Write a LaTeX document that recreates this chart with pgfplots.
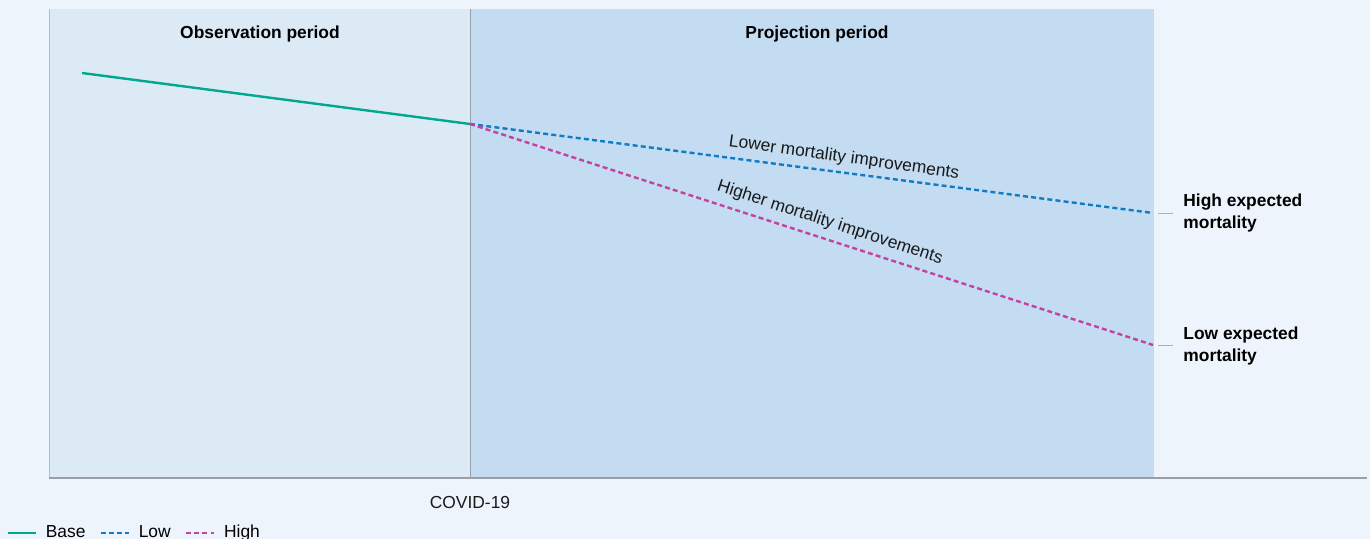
\documentclass[border=0pt]{standalone}
\usepackage{pgfplots}
\pgfplotsset{compat=1.18}
\usepackage{fontspec}
\setmainfont{Liberation Sans}
\definecolor{bg}{HTML}{EDF4FC}
\definecolor{obs}{HTML}{DCEAF6}
\definecolor{proj}{HTML}{C3DCF2}
\definecolor{cbase}{HTML}{00A88E}
\definecolor{clow}{HTML}{0F7CC5}
\definecolor{chigh}{HTML}{C2449E}
\definecolor{txt}{HTML}{1A1A1A}
\definecolor{gline}{HTML}{9A9EA6}
\begin{document}
\begin{tikzpicture}
\fill[bg] (-24.5bp,-30.5bp) rectangle (660.5bp,239bp);
\begin{axis}[
  scale only axis, width=659bp, height=234.5bp,
  xmin=49, xmax=1367, ymin=0, ymax=469,
  hide axis, clip=false,
  font=\fontsize{8.7bp}{11bp}\selectfont\color{txt},
  legend columns=3,
  legend style={at={(axis cs:6,-55)}, anchor=west, draw=none, fill=none,
    inner sep=0pt, font=\fontsize{8.7bp}{11bp}\selectfont,
    /tikz/every even column/.append style={column sep=5bp}},
  legend image code/.code={\draw[#1] (0bp,0bp) -- (14bp,0bp); \path (16.5bp,0bp);},
]
% regions
\addplot[draw=none, fill=obs, forget plot] coordinates {(49,0) (470,0) (470,469) (49,469)} -- cycle;
\addplot[draw=none, fill=proj, forget plot] coordinates {(470,0) (1154,0) (1154,469) (470,469)} -- cycle;
% axis lines
\addplot[color=gline!70, line width=0.8bp, forget plot] coordinates {(49.5,0) (49.5,469)};
\addplot[color=gline, line width=0.75bp, forget plot] coordinates {(49,0) (1367,0)};
\addplot[color=gline, line width=0.45bp, forget plot] coordinates {(470,0) (470,469)};
% series
\addplot[color=cbase, line width=1.2bp] coordinates {(82,405) (470,354)};
\addlegendentry{Base}
\addplot[color=clow, line width=1.2bp, dash pattern=on 2.5bp off 1.6bp] coordinates {(470,354) (1153,265)};
\addlegendentry{Low}
\addplot[color=chigh, line width=1.2bp, dash pattern=on 2.5bp off 1.6bp] coordinates {(470,354) (1153,133)};
\addlegendentry{High}
% right ticks
\addplot[color=gline!80, line width=0.4bp, forget plot] coordinates {(1158,265) (1173,265)};
\addplot[color=gline!80, line width=0.4bp, forget plot] coordinates {(1158,133) (1173,133)};
% texts
\node[font=\fontsize{8.7bp}{11bp}\selectfont\bfseries] at (axis cs:260,444) {Observation period};
\node[font=\fontsize{8.7bp}{11bp}\selectfont\bfseries] at (axis cs:817,444) {Projection period};
\node at (axis cs:470,-25) {COVID-19};
\node[font=\fontsize{8.7bp}{11bp}\selectfont\bfseries, anchor=west, align=left, inner sep=0pt] at (axis cs:1183,265) {High expected\\mortality};
\node[font=\fontsize{8.7bp}{11bp}\selectfont\bfseries, anchor=west, align=left, inner sep=0pt] at (axis cs:1183,132) {Low expected\\mortality};
\node[rotate=-8, inner sep=0pt] at (axis cs:844,320) {Lower mortality improvements};
\node[rotate=-18, inner sep=0pt] at (axis cs:830,255) {Higher mortality improvements};
\end{axis}
\pgfresetboundingbox
\path (-24.5bp,-30.5bp) rectangle (660.5bp,239bp);
\end{tikzpicture}
\end{document}
